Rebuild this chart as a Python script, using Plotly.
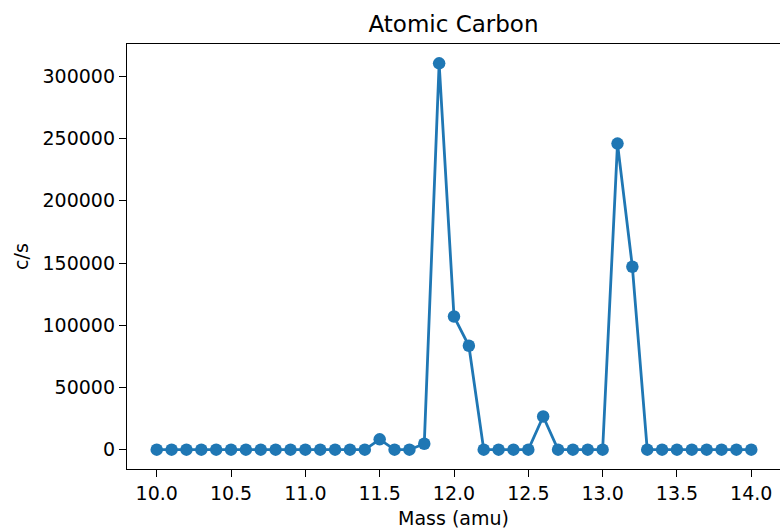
import plotly.graph_objects as go

mass = [round(10.0 + 0.1 * i, 1) for i in range(41)]
counts = [
    0, 0, 0, 0, 0, 0, 0, 0, 0, 0,          # 10.0 - 10.9
    0, 0, 0, 0, 0, 8300, 0, 0, 4800, 310500,  # 11.0 - 11.9
    107000, 83500, 0, 0, 0, 0, 26700, 0, 0, 0,  # 12.0 - 12.9
    0, 246000, 147000, 0, 0, 0, 0, 0, 0, 0,   # 13.0 - 13.9
    0,                                     # 14.0
]
title_text = "Atomic Carbon"
x_label = "Mass (amu)"
y_label = "c/s"

blue = "#1f77b4"
font = "DejaVu Sans"

ymin, ymax = min(counts), max(counts)
ypad = 0.05 * (ymax - ymin)
xmin, xmax = min(mass), max(mass)
xpad = 0.05 * (xmax - xmin)

fig = go.Figure()
fig.add_trace(go.Scatter(
    x=mass, y=counts, mode="lines+markers",
    line=dict(color=blue, width=2.8),
    marker=dict(color=blue, size=12.5),
    showlegend=False,
))

fig.update_layout(
    width=780, height=529,
    margin=dict(l=127, r=0, t=44, b=60),
    paper_bgcolor="white", plot_bgcolor="white",
    font=dict(family=font, color="black", size=19),
    title=dict(text=title_text, x=0.5, xref="paper", xanchor="center",
               y=1 - 24 / 529, yref="container", yanchor="middle",
               font=dict(size=23, family=font, color="black")),
)
fig.update_xaxes(
    range=[xmin - xpad, xmin - xpad + (xmax - xmin + 2 * xpad) * 653 / 654],
    tick0=10.0, dtick=0.5, tickformat=".1f",
    showgrid=False, zeroline=False,
    showline=True, linecolor="black", linewidth=1.3, mirror=True,
    ticks="outside", ticklen=7, tickwidth=1.3, tickcolor="black",
    tickfont=dict(size=19, family=font),
    title=dict(text=x_label, font=dict(size=19, family=font), standoff=8),
)
fig.update_yaxes(
    range=[ymin - ypad, ymax + ypad],
    tick0=0, dtick=50000, tickformat="d",
    showgrid=False, zeroline=False,
    showline=True, linecolor="black", linewidth=1.3, mirror=False,
    ticks="outside", ticklen=7, tickwidth=1.3, tickcolor="black",
    tickfont=dict(size=19, family=font),
    title=dict(text=y_label, font=dict(size=19, family=font), standoff=8),
)

fig.write_html("out.html")
